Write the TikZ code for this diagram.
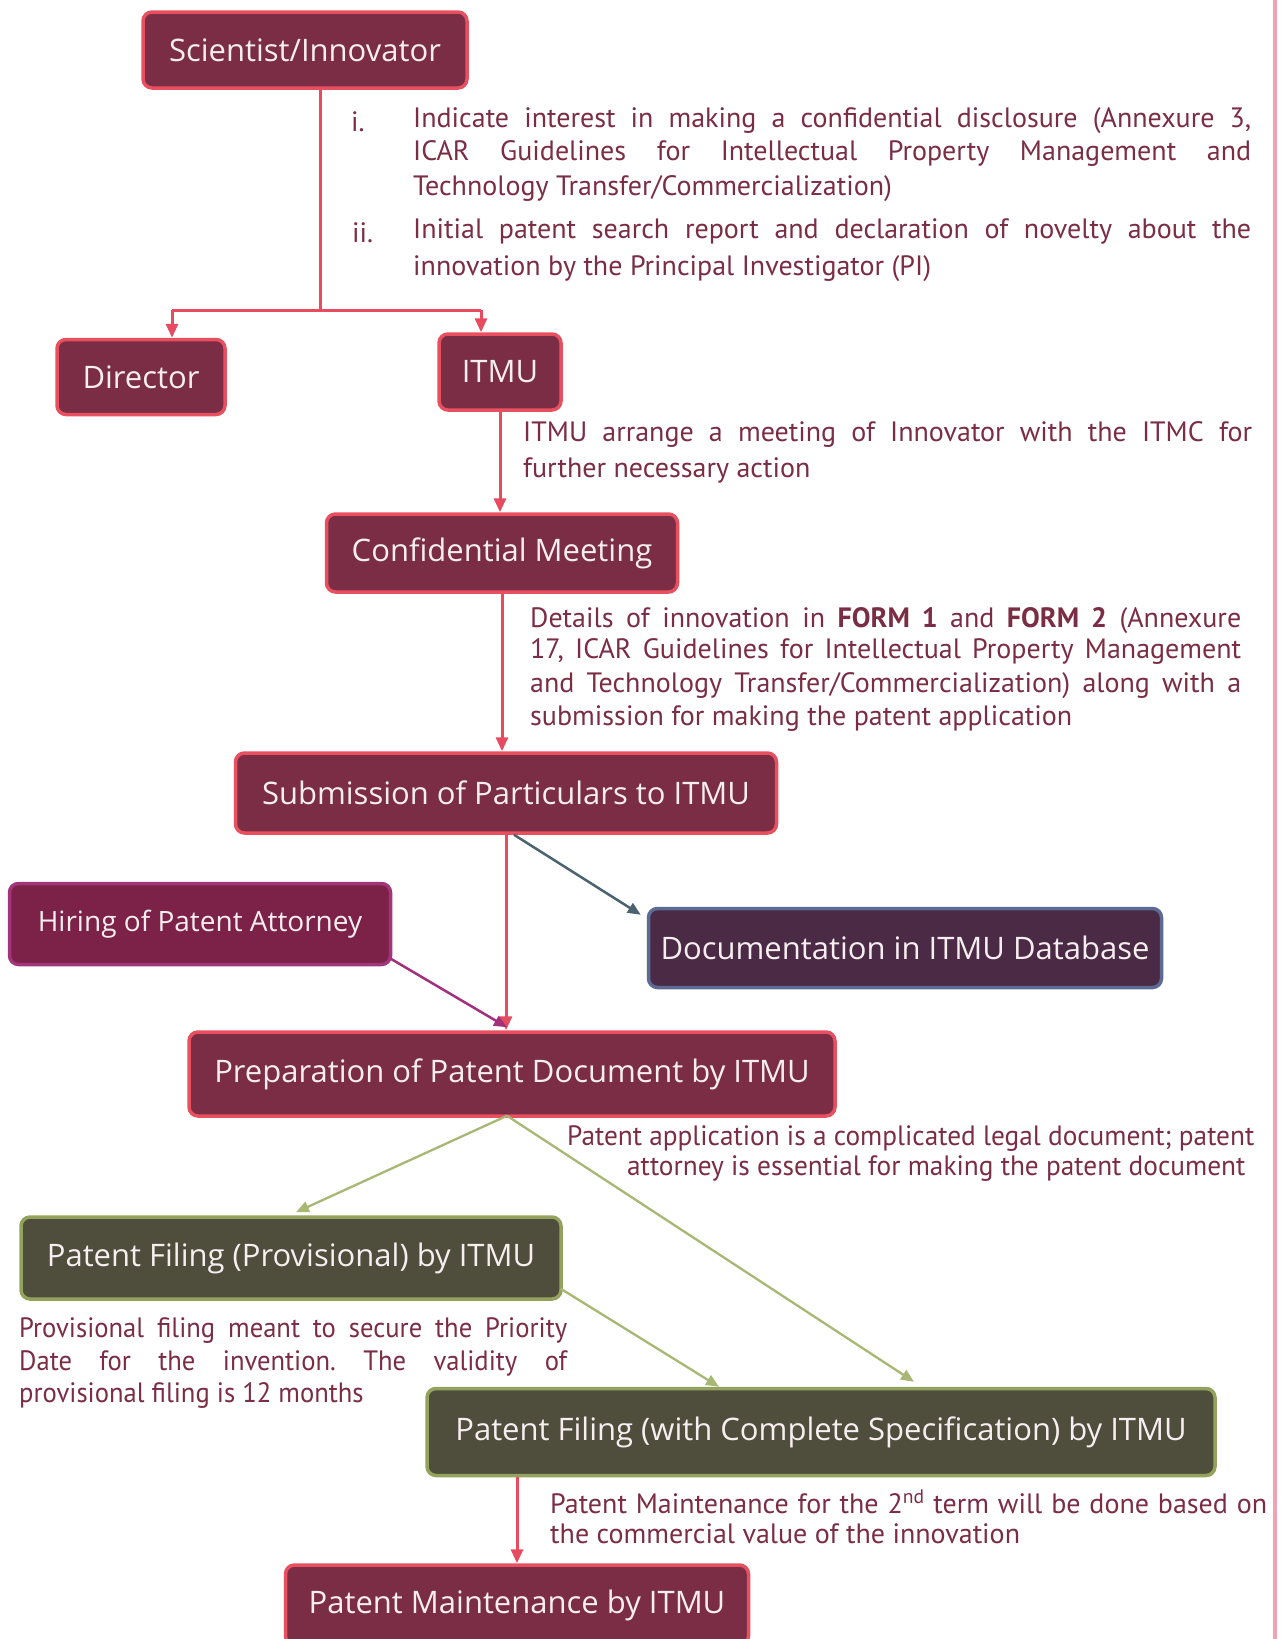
\documentclass[tikz,border=0pt]{standalone}
\usepackage{fontspec}
\setmainfont{PT Sans}
\newfontfamily\boxfont{Open Sans}
\newfontfamily\bodyfont{PT Sans}
\newfontfamily\narrowfont[FakeStretch=0.95]{PT Sans}
\newfontfamily\midfont[FakeStretch=0.975]{PT Sans}
\usetikzlibrary{arrows.meta,calc}
\definecolor{maroonfill}{HTML}{7A2D45}
\definecolor{pinkborder}{HTML}{E8505F}
\definecolor{hirefill}{HTML}{7C2148}
\definecolor{hireborder}{HTML}{A2357A}
\definecolor{docfill}{HTML}{4A2A45}
\definecolor{docborder}{HTML}{5C6A94}
\definecolor{greenfill}{HTML}{4F4E3C}
\definecolor{greenborder}{HTML}{93A35E}
\definecolor{greenline}{HTML}{A8B874}
\definecolor{slateline}{HTML}{4B6270}
\definecolor{purpleline}{HTML}{A2307C}
\definecolor{linered}{HTML}{E84A5F}
\definecolor{bodytext}{HTML}{7B2D45}
\definecolor{boxtext}{HTML}{F7EEF0}
\definecolor{edgepink}{HTML}{F0A3B3}
\tikzset{
  box/.style={draw=pinkborder, fill=maroonfill, line width=3.5pt, rounded corners=9pt,
    text=boxtext, font=\boxfont\fontsize{31}{36}\selectfont, inner sep=0pt, anchor=center},
  hirebox/.style={box, draw=hireborder, fill=hirefill, font=\boxfont\fontsize{28}{34}\selectfont},
  docbox/.style={box, draw=docborder, fill=docfill},
  greenbox/.style={box, draw=greenborder, fill=greenfill},
  conn/.style={draw=linered, line width=3pt},
  tip/.style={-{Triangle[length=14pt,width=12pt]}},
  gconn/.style={draw=greenline, line width=2.3pt, -{Triangle[length=13pt,width=11pt]}},
  body/.style={text=bodytext, font=\bodyfont\fontsize{28}{34}\selectfont\frenchspacing, inner sep=0pt, anchor=base west},
  nbody/.style={body, font=\narrowfont\fontsize{28}{34}\selectfont\frenchspacing},
  mbody/.style={body, font=\midfont\fontsize{28}{34}\selectfont\frenchspacing},
}
\newcommand{\jl}[2]{\makebox[#1][s]{#2}}
\begin{document}
\begin{tikzpicture}[x=1pt,y=-1pt]
\useasboundingbox (0,0) rectangle (1281,1639);
\fill[white] (0,0) rectangle (1281,1639);
\draw[edgepink, line width=4pt] (1275,0) -- (1275,1639);

% boxes
\node[box, minimum width=324pt, minimum height=76pt] (sci) at (305,50) {Scientist/Innovator};
\node[box, minimum width=168pt, minimum height=75pt] (dir) at (141,377) {Director};
\node[box, minimum width=122pt, minimum height=76pt] (itmu) at (500,372) {ITMU};
\node[box, minimum width=351pt, minimum height=78pt] (conf) at (502,553) {Confidential Meeting};
\node[box, minimum width=541pt, minimum height=80pt] (sub) at (506,793) {Submission of Particulars to ITMU};
\node[docbox, minimum width=513pt, minimum height=79pt] (doc) at (905,948) {Documentation in ITMU Database};
\node[hirebox, minimum width=381pt, minimum height=81pt] (hire) at (200,924) {Hiring of Patent Attorney};
\node[box, minimum width=646pt, minimum height=84pt] (prep) at (512,1074) {Preparation of Patent Document by ITMU};
\node[greenbox, minimum width=540pt, minimum height=82pt] (prov) at (291,1258) {Patent Filing (Provisional) by ITMU};
\node[greenbox, minimum width=788pt, minimum height=87pt] (comp) at (821,1432) {Patent Filing (with Complete Specification) by ITMU};
\node[box, minimum width=463pt, minimum height=80pt] (maint) at (517,1605) {Patent Maintenance by ITMU};

% connectors
\coordinate (j) at (320,310);
\coordinate (jl) at (172,310);
\coordinate (jr) at (481,310);
\draw[conn] (sci.south -| j) -- (j);
\draw[conn] (jl) -- (jr);
\draw[conn,tip] (jl) -- (jl |- dir.north);
\draw[conn,tip] (jr) -- (jr |- itmu.north);
\draw[conn,tip] (itmu.south) -- (itmu.south |- conf.north);
\draw[conn,tip] (conf.south) -- (conf.south |- sub.north);
\draw[conn,tip] (sub.south) -- (sub.south |- prep.north);
\draw[slateline, line width=2.5pt, -{Triangle[length=13pt,width=11pt]}] ($(sub.south)+(8,0)$) -- ($(doc.north west)+(-6,8)$);
\draw[purpleline, line width=2.5pt, -{Triangle[length=13pt,width=11pt]}] ($(hire.south east)+(-4,-9)$) -- ($(prep.north)+(-5,-3)$);
\draw[gconn] ($(prep.south)+(-5,-2)$) -- ($(prov.north)+(5,-3)$);
\draw[gconn] ($(prep.south)+(-5,-2)$) -- ($(comp.north)+(93,-5)$);
\draw[gconn] ($(prov.south east)+(-2,-12)$) -- ($(comp.north)+(-102,0)$);
\draw[conn,tip] (maint.north |- comp.south) -- (maint.north);

% text block i / ii
\node[body] (ni) at (351,131) {i.};
\node[body] (t1a) at (413,127) {\jl{838pt}{Indicate interest in making a confidential disclosure (Annexure 3,}};
\node[body] (t1b) at (413,160) {\jl{838pt}{ICAR Guidelines for Intellectual Property Management and}};
\node[body] (t1c) at (413,195) {Technology Transfer/Commercialization)};
\node[body] (nii) at (352,242) {ii.};
\node[body] (t2a) at (413,238) {\jl{838pt}{Initial patent search report and declaration of novelty about the}};
\node[body] (t2b) at (413,275) {innovation by the Principal Investigator (PI)};

% ITMU arrange
\node[body] (t3a) at (523,441) {\jl{729pt}{ITMU arrange a meeting of Innovator with the ITMC for}};
\node[body] (t3b) at (523,477) {further necessary action};

% details
\node[body] (t4a) at (530,627) {\jl{711pt}{Details of innovation in \textbf{FORM 1} and \textbf{FORM 2} (Annexure}};
\node[body] (t4b) at (530,658) {\jl{711pt}{17, ICAR Guidelines for Intellectual Property Management}};
\node[body] (t4c) at (530,692) {\jl{711pt}{and Technology Transfer/Commercialization) along with a}};
\node[body] (t4d) at (530,725) {submission for making the patent application};

% patent application
\node[mbody] (t5a) at (567,1145) {Patent application is a complicated legal document; patent};
\node[mbody] (t5b) at (627,1175) {attorney is essential for making the patent document};

% provisional
\node[nbody] (t6a) at (19,1337) {\jl{548pt}{Provisional filing meant to secure the Priority}};
\node[nbody] (t6b) at (19,1370) {\jl{548pt}{Date for the invention. The validity of}};
\node[nbody] (t6c) at (19,1402) {provisional filing is 12 months};

% maintenance
\node[body] (t7a) at (550,1513) {\jl{717pt}{Patent Maintenance for the 2\textsuperscript{nd} term will be done based on}};
\node[body] (t7b) at (550,1543) {the commercial value of the innovation};
\end{tikzpicture}
\end{document}
